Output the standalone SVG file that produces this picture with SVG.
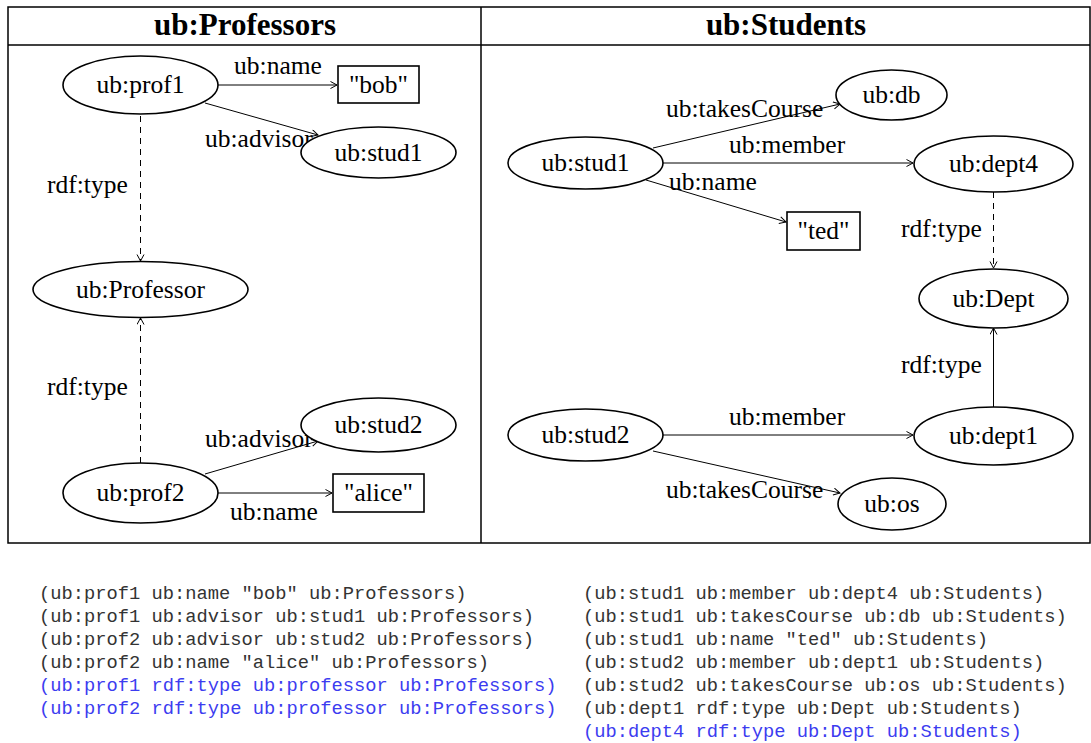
<svg xmlns="http://www.w3.org/2000/svg" width="1091" height="743" viewBox="0 0 1091 743">
<style>
.frame{fill:none;stroke:#000;stroke-width:1.5}
.node ellipse,.node rect{fill:#fff;stroke:#000;stroke-width:1.6}
.lbl{font-family:"Liberation Serif","Times New Roman",serif;font-size:25.5px;fill:#000}
.mid{text-anchor:middle}
.title{font-family:"Liberation Serif","Times New Roman",serif;font-size:31px;font-weight:bold;text-anchor:middle;fill:#000}
.edge{stroke:#000;stroke-width:1;fill:none;marker-end:url(#arr)}
.dash{stroke-dasharray:6,5}
.mono{font-family:"Liberation Mono","Courier New",monospace;font-size:18.75px;fill:#333;white-space:pre}
.blue{fill:#3c3cf0}
</style>
<defs>
<marker id="arr" markerUnits="userSpaceOnUse" markerWidth="10" markerHeight="10" refX="7" refY="4" orient="auto">
<path d="M0.5,0.5 L7,4 L0.5,7.5" fill="none" stroke="#000" stroke-width="1"/>
</marker>
</defs>
<rect width="1091" height="743" fill="#fff"/>
<g id="frame">
<rect class="frame" x="8" y="7" width="1082" height="536"/>
<line class="frame" x1="8" y1="45" x2="1090" y2="45"/>
<line class="frame" x1="481" y1="7" x2="481" y2="543"/>
<text class="title" x="245" y="35">ub:Professors</text>
<text class="title" x="786" y="35">ub:Students</text>
</g>
<g id="connectors">
<line class="edge" x1="218" y1="85" x2="337" y2="85"/>
<text class="lbl mid" x="278" y="74">ub:name</text>
<line class="edge" x1="205" y1="103" x2="318" y2="135"/>
<text class="lbl" x="205" y="147">ub:advisor</text>
<line class="edge dash" x1="140.5" y1="116" x2="140.5" y2="261"/>
<text class="lbl" x="47" y="193">rdf:type</text>
<line class="edge dash" x1="140.5" y1="463" x2="140.5" y2="318"/>
<text class="lbl" x="47" y="395">rdf:type</text>
<line class="edge" x1="205" y1="474" x2="318" y2="441"/>
<text class="lbl" x="205" y="447">ub:advisor</text>
<line class="edge" x1="218" y1="493" x2="332" y2="493"/>
<text class="lbl" x="230" y="520">ub:name</text>

<line class="edge" x1="653" y1="148" x2="840" y2="104"/>
<text class="lbl" x="666" y="117">ub:takesCourse</text>
<line class="edge" x1="663" y1="163" x2="913" y2="163"/>
<text class="lbl" x="729" y="153">ub:member</text>
<line class="edge" x1="646" y1="180" x2="786" y2="222"/>
<text class="lbl" x="669" y="190">ub:name</text>
<line class="edge dash" x1="993.5" y1="192" x2="993.5" y2="268"/>
<text class="lbl" x="901" y="237">rdf:type</text>
<line class="edge" x1="993.5" y1="407" x2="993.5" y2="328"/>
<text class="lbl" x="901" y="373">rdf:type</text>
<line class="edge" x1="663" y1="435" x2="913" y2="435"/>
<text class="lbl" x="729" y="425">ub:member</text>
<line class="edge" x1="653" y1="451" x2="840" y2="493"/>
<text class="lbl" x="666" y="498">ub:takesCourse</text>
</g>
<g id="n-prof1" class="node"><ellipse cx="140.5" cy="85" rx="77.5" ry="29"/><text class="lbl mid" x="140.5" y="93">ub:prof1</text></g>
<g id="n-bob" class="node"><rect x="338" y="66" width="81" height="37"/><text class="lbl mid" x="378.5" y="93">"bob"</text></g>
<g id="n-pstud1" class="node"><ellipse cx="378.5" cy="152.5" rx="77.5" ry="25.5"/><text class="lbl mid" x="378.5" y="161">ub:stud1</text></g>
<g id="n-professor" class="node"><ellipse cx="140.5" cy="289.5" rx="107.5" ry="28"/><text class="lbl mid" x="140.5" y="298">ub:Professor</text></g>
<g id="n-pstud2" class="node"><ellipse cx="378.5" cy="425" rx="77.5" ry="27"/><text class="lbl mid" x="378.5" y="433">ub:stud2</text></g>
<g id="n-prof2" class="node"><ellipse cx="140.5" cy="493" rx="77.5" ry="30"/><text class="lbl mid" x="140.5" y="501">ub:prof2</text></g>
<g id="n-alice" class="node"><rect x="333" y="474" width="91" height="38"/><text class="lbl mid" x="378.5" y="501">"alice"</text></g>

<g id="n-sstud1" class="node"><ellipse cx="585.5" cy="163" rx="77.5" ry="26"/><text class="lbl mid" x="585.5" y="171">ub:stud1</text></g>
<g id="n-db" class="node"><ellipse cx="891.5" cy="95" rx="55.5" ry="25"/><text class="lbl mid" x="891.5" y="103">ub:db</text></g>
<g id="n-dept4" class="node"><ellipse cx="993.5" cy="164" rx="79.5" ry="28"/><text class="lbl mid" x="993.5" y="172">ub:dept4</text></g>
<g id="n-ted" class="node"><rect x="787" y="212" width="73" height="38"/><text class="lbl mid" x="823.5" y="239">"ted"</text></g>
<g id="n-dept" class="node"><ellipse cx="993.5" cy="298.5" rx="74.5" ry="29.5"/><text class="lbl mid" x="993.5" y="307">ub:Dept</text></g>
<g id="n-dept1" class="node"><ellipse cx="993.5" cy="436" rx="79.5" ry="29"/><text class="lbl mid" x="993.5" y="444">ub:dept1</text></g>
<g id="n-sstud2" class="node"><ellipse cx="585.5" cy="435" rx="77.5" ry="26"/><text class="lbl mid" x="585.5" y="443">ub:stud2</text></g>
<g id="n-os" class="node"><ellipse cx="892" cy="504" rx="54" ry="26"/><text class="lbl mid" x="892" y="512">ub:os</text></g>

<g id="triples">
<text class="mono" x="39" y="599">(ub:prof1 ub:name "bob" ub:Professors)</text>
<text class="mono" x="39" y="622">(ub:prof1 ub:advisor ub:stud1 ub:Professors)</text>
<text class="mono" x="39" y="645">(ub:prof2 ub:advisor ub:stud2 ub:Professors)</text>
<text class="mono" x="39" y="668">(ub:prof2 ub:name "alice" ub:Professors)</text>
<text class="mono blue" x="39" y="691">(ub:prof1 rdf:type ub:professor ub:Professors)</text>
<text class="mono blue" x="39" y="714">(ub:prof2 rdf:type ub:professor ub:Professors)</text>
<text class="mono" x="583" y="599">(ub:stud1 ub:member ub:dept4 ub:Students)</text>
<text class="mono" x="583" y="622">(ub:stud1 ub:takesCourse ub:db ub:Students)</text>
<text class="mono" x="583" y="645">(ub:stud1 ub:name "ted" ub:Students)</text>
<text class="mono" x="583" y="668">(ub:stud2 ub:member ub:dept1 ub:Students)</text>
<text class="mono" x="583" y="691">(ub:stud2 ub:takesCourse ub:os ub:Students)</text>
<text class="mono" x="583" y="714">(ub:dept1 rdf:type ub:Dept ub:Students)</text>
<text class="mono blue" x="583" y="737">(ub:dept4 rdf:type ub:Dept ub:Students)</text>
</g>
</svg>
